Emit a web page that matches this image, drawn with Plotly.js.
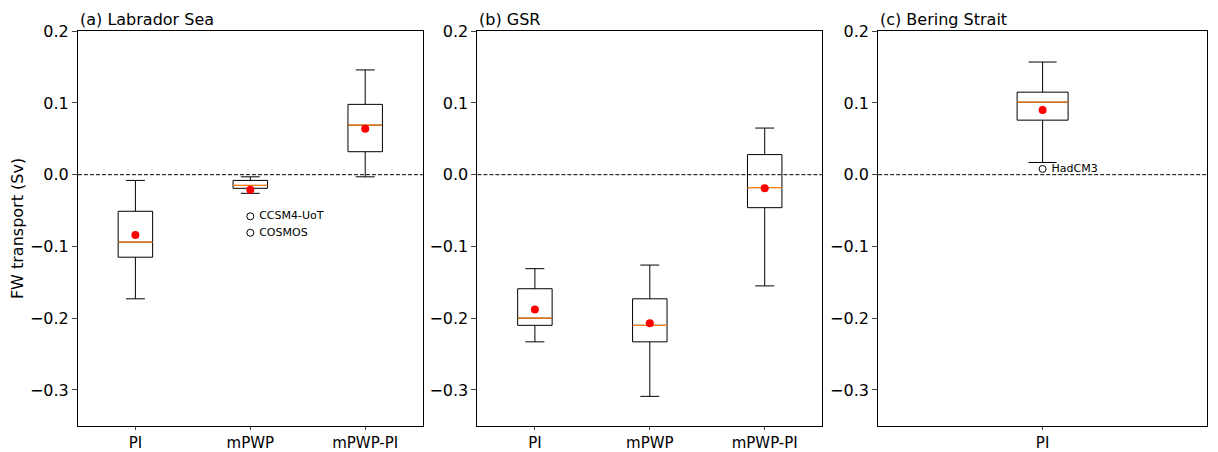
<!DOCTYPE html>
<html><head><meta charset="utf-8">
<script src="https://cdn.plot.ly/plotly-3.0.1.min.js"></script>
<style>body{margin:0}</style></head>
<body><div id="chart" style="width:1218px;height:452px"></div>
<script>
// box statistics (Sv)
var labA = ['PI', 'mPWP', 'mPWP-PI'];
var lowA = [-0.173, -0.026, -0.003];
var q1A  = [-0.115, -0.019, 0.032];
var medA = [-0.094, -0.015, 0.069];
var q3A  = [-0.051, -0.008, 0.098];
var upA  = [-0.008, -0.003, 0.146];
var meanA = [-0.084, -0.021, 0.064];

var labB = ['PI', 'mPWP', 'mPWP-PI'];
var lowB = [-0.233, -0.309, -0.155];
var q1B  = [-0.210, -0.233, -0.046];
var medB = [-0.200, -0.210, -0.018];
var q3B  = [-0.159, -0.173, 0.028];
var upB  = [-0.131, -0.126, 0.065];
var meanB = [-0.188, -0.207, -0.019];

var labC = ['PI'];
var lowC = [0.017];
var q1C  = [0.076];
var medC = [0.101];
var q3C  = [0.115];
var upC  = [0.157];
var meanC = [0.090];

var outA = {x: [2, 2], y: [-0.058, -0.081], name: ['CCSM4-UoT', 'COSMOS']};
var outC = {x: [1], y: [0.008], name: ['HadCM3']};

var data = [];
var shapes = [];
var annotations = [];

function panel(ax, labs, low, q1, med, q3, up, mean, width, outs, title) {
    var xa = 'x' + (ax === 1 ? '' : ax), ya = 'y' + (ax === 1 ? '' : ax);
    var xs = labs.map(function (l, i) { return i + 1; });
    data.push({type: 'box', x: xs, q1: q1, median: med, q3: q3,
        lowerfence: low, upperfence: up, width: width, whiskerwidth: 0.55,
        fillcolor: 'white', line: {color: 'black', width: 1},
        xaxis: xa, yaxis: ya, showlegend: false, hoverinfo: 'skip'});
    xs.forEach(function (x, i) {
        data.push({type: 'scatter', mode: 'lines', x: [x - width / 2, x + width / 2],
            y: [med[i], med[i]], line: {color: '#ff7f0e', width: 1.3},
            xaxis: xa, yaxis: ya, showlegend: false, hoverinfo: 'skip'});
    });
    data.push({type: 'scatter', mode: 'markers', x: xs, y: mean,
        marker: {color: 'red', size: 8}, xaxis: xa, yaxis: ya, showlegend: false});
    if (outs) {
        data.push({type: 'scatter', mode: 'markers+text', x: outs.x, y: outs.y,
            text: outs.name.map(function (n) { return '\u00a0' + n; }), textposition: 'middle right',
            textfont: {size: 11, color: 'black', family: 'DejaVu Sans'},
            marker: {symbol: 'circle-open', color: 'black', size: 7},
            xaxis: xa, yaxis: ya, showlegend: false});
    }
    shapes.push({type: 'line', xref: xa + ' domain', yref: ya, x0: 0, x1: 1, y0: 0, y1: 0,
        line: {color: 'black', width: 1, dash: '4px,2px'}});
    annotations.push({text: title, xref: xa + ' domain', yref: ya + ' domain', x: 0, y: 1,
        xanchor: 'left', yanchor: 'bottom', showarrow: false, font: {size: 16}});
}

panel(1, labA, lowA, q1A, medA, q3A, upA, meanA, 0.3, outA, '(a) Labrador Sea');
panel(2, labB, lowB, q1B, medB, q3B, upB, meanB, 0.3, null, '(b) GSR');
panel(3, labC, lowC, q1C, medC, q3C, upC, meanC, 0.155, outC, '(c) Bering Strait');

function xaxis(dom, labs) {
    return {domain: dom, range: [0.5, labs.length + 0.5], tickvals: labs.map(function (l, i) { return i + 1; }),
        ticktext: labs, showline: true, mirror: true, linecolor: 'black', ticks: 'outside',
        ticklen: 3, showgrid: false, zeroline: false, tickfont: {size: 15}};
}
function yaxis(anchor, title) {
    var a = {domain: [0.058, 0.931], range: [-0.35, 0.2], tickvals: [-0.3, -0.2, -0.1, 0, 0.1, 0.2],
        ticktext: ['\u22120.3', '\u22120.2', '\u22120.1', '0.0', '0.1', '0.2'], anchor: anchor,
        showline: true, mirror: true, linecolor: 'black', ticks: 'outside', ticklen: 5,
        showgrid: false, zeroline: false, tickfont: {size: 16}};
    if (title) a.title = {text: title, font: {size: 16}, standoff: 2};
    return a;
}

var layout = {
    width: 1218, height: 452, margin: {l: 0, r: 0, t: 0, b: 0},
    paper_bgcolor: 'white', plot_bgcolor: 'white',
    font: {family: 'DejaVu Sans', color: 'black'},
    xaxis: Object.assign(xaxis([0.064, 0.347], labA), {anchor: 'y'}),
    xaxis2: Object.assign(xaxis([0.392, 0.675], labB), {anchor: 'y2'}),
    xaxis3: Object.assign(xaxis([0.721, 0.991], labC), {anchor: 'y3'}),
    yaxis: yaxis('x', 'FW transport (Sv)'),
    yaxis2: yaxis('x2'),
    yaxis3: yaxis('x3'),
    shapes: shapes, annotations: annotations
};

Plotly.newPlot('chart', data, layout, {displayModeBar: false});
</script></body></html>
